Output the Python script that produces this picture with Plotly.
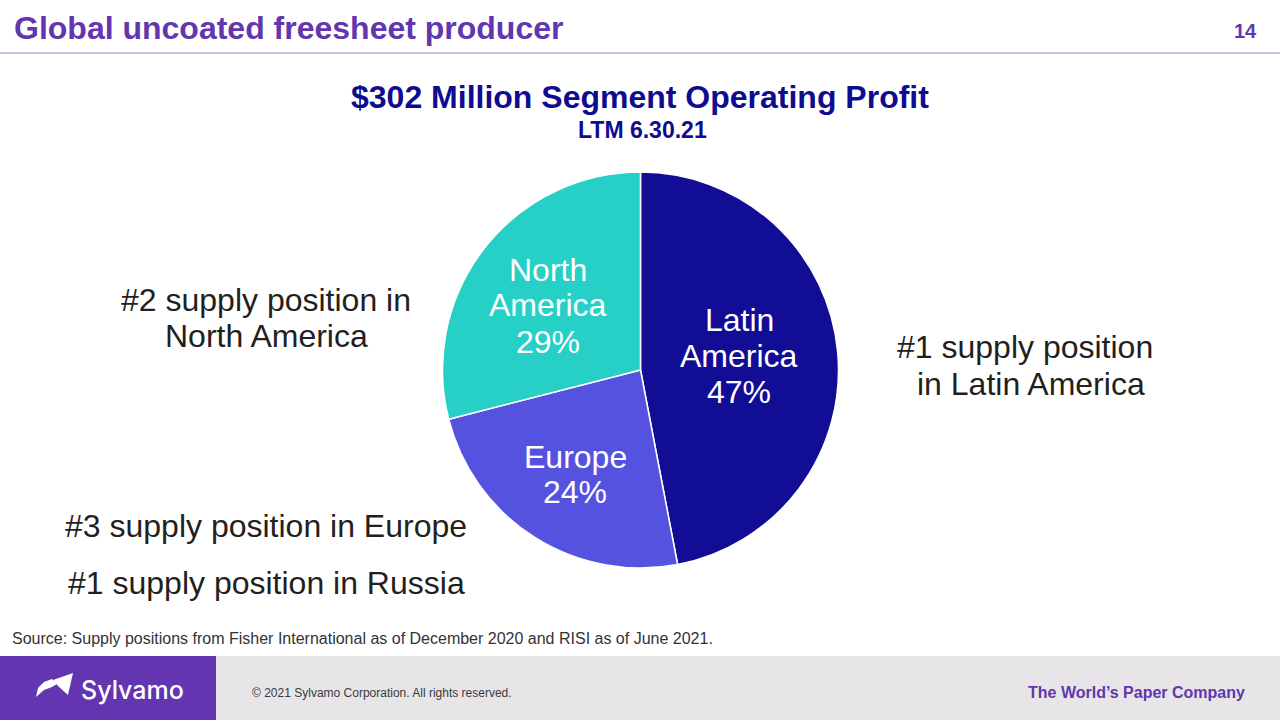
import plotly.graph_objects as go

# ---- data ----
regions = ["Latin America", "Europe", "North America"]
shares = [47, 24, 29]
slice_colors = ["#110d94", "#5552e0", "#27d0c6"]

page_title = "Global uncoated freesheet producer"
page_number = "14"
chart_title = "$302 Million Segment Operating Profit"
chart_subtitle = "LTM 6.30.21"
source_note = "Source: Supply positions from Fisher International as of December 2020 and RISI as of June 2021."
copyright_note = "\u00a9 2021 Sylvamo Corporation. All rights reserved."
tagline = "The World\u2019s Paper Company"
brand = "Sylvamo"

W, H = 1280, 720
FONT = "Liberation Sans, Arial, sans-serif"

def px(x):
    return x / W

def py(y):
    return 1 - y / H

fig = go.Figure()
fig.add_trace(go.Pie(
    labels=regions,
    values=shares,
    sort=False,
    direction="clockwise",
    rotation=0,
    marker=dict(colors=slice_colors, line=dict(color="white", width=1.5)),
    textinfo="none",
    hoverinfo="label+percent",
    showlegend=False,
    domain=dict(x=[px(442), px(839)], y=[py(568), py(172)]),
))

annotations = []

def add_text(x, y, text, size, color, bold=False, xanchor="center", family=FONT, weight=None):
    if bold:
        text = "<b>" + text + "</b>"
    f = dict(size=size, color=color, family=family)
    if weight:
        f["weight"] = weight
    annotations.append(dict(
        x=px(x), y=py(y), xref="paper", yref="paper",
        text=text, showarrow=False, xanchor=xanchor, yanchor="middle",
        font=f,
    ))

PURPLE = "#6236ae"
NAVY = "#0f0c8f"
DARK = "#231f20"

# header
add_text(12, 28, page_title, 32, PURPLE, bold=True, xanchor="left")
add_text(1259, 31, page_number, 20, PURPLE, bold=True, xanchor="right")
add_text(640, 97, chart_title, 32, NAVY, bold=True)
add_text(642, 130, chart_subtitle, 23, NAVY, bold=True)

# pie labels (split lines, from data)
label_pos = {
    "Latin America": (739, [320, 356, 392]),
    "Europe": (575, [457, 492]),
    "North America": (548, [270, 305, 342]),
}
for name, val in zip(regions, shares):
    x, ys = label_pos[name]
    lines = name.split(" ") + [f"{val}%"]
    for line, y in zip(lines, ys):
        add_text(x, y, line, 32, "white")

# side callouts
add_text(266, 300, "#2 supply position in", 32, DARK)
add_text(266, 336, "North America", 32, DARK)
add_text(1025, 347, "#1 supply position", 32, DARK)
add_text(1031, 384, "in Latin America", 32, DARK)
add_text(266, 526, "#3 supply position in Europe", 32, DARK)
add_text(266, 583, "#1 supply position in Russia", 32, DARK)

# source
add_text(10, 638, source_note, 16, "#333333", xanchor="left")

# footer
add_text(250, 693, copyright_note, 12, "#3a3a3a", xanchor="left")
add_text(1247, 692, tagline, 16, PURPLE, bold=True, xanchor="right")
add_text(79, 690, brand, 25, "white", xanchor="left", family="Inter, Lato, sans-serif", weight=500)

shapes = [
    # header rule
    dict(type="line", xref="paper", yref="paper", x0=0, x1=1, y0=py(53), y1=py(53),
         line=dict(color="#9a80c8", width=1)),
    # footer band
    dict(type="rect", xref="paper", yref="paper", x0=0, x1=1, y0=0, y1=py(656),
         fillcolor="#e7e5e7", line=dict(width=0), layer="below"),
    dict(type="rect", xref="paper", yref="paper", x0=0, x1=px(216), y0=0, y1=py(656),
         fillcolor="#6435b0", line=dict(width=0), layer="below"),
]

def path_from(points):
    s = "M " + " L ".join(f"{px(x):.5f},{py(y):.5f}" for x, y in points) + " Z"
    return s

# logo icon (decorative)
shapes.append(dict(type="path", xref="paper", yref="paper",
                   path=path_from([(36, 697), (38, 688), (44, 682), (52, 679), (57, 684), (52, 687), (44, 690)]),
                   fillcolor="white", line=dict(width=0)))
shapes.append(dict(type="path", xref="paper", yref="paper",
                   path=path_from([(53, 680), (73, 673), (68, 695), (58, 686)]),
                   fillcolor="white", line=dict(width=0)))

fig.update_layout(
    width=W, height=H,
    margin=dict(l=0, r=0, t=0, b=0),
    paper_bgcolor="white",
    plot_bgcolor="white",
    annotations=annotations,
    shapes=shapes,
    showlegend=False,
)

fig.write_html(
    "out.html",
    config={"displayModeBar": False},
    post_script="document.body.style.margin='0';document.body.style.overflow='hidden';",
)
